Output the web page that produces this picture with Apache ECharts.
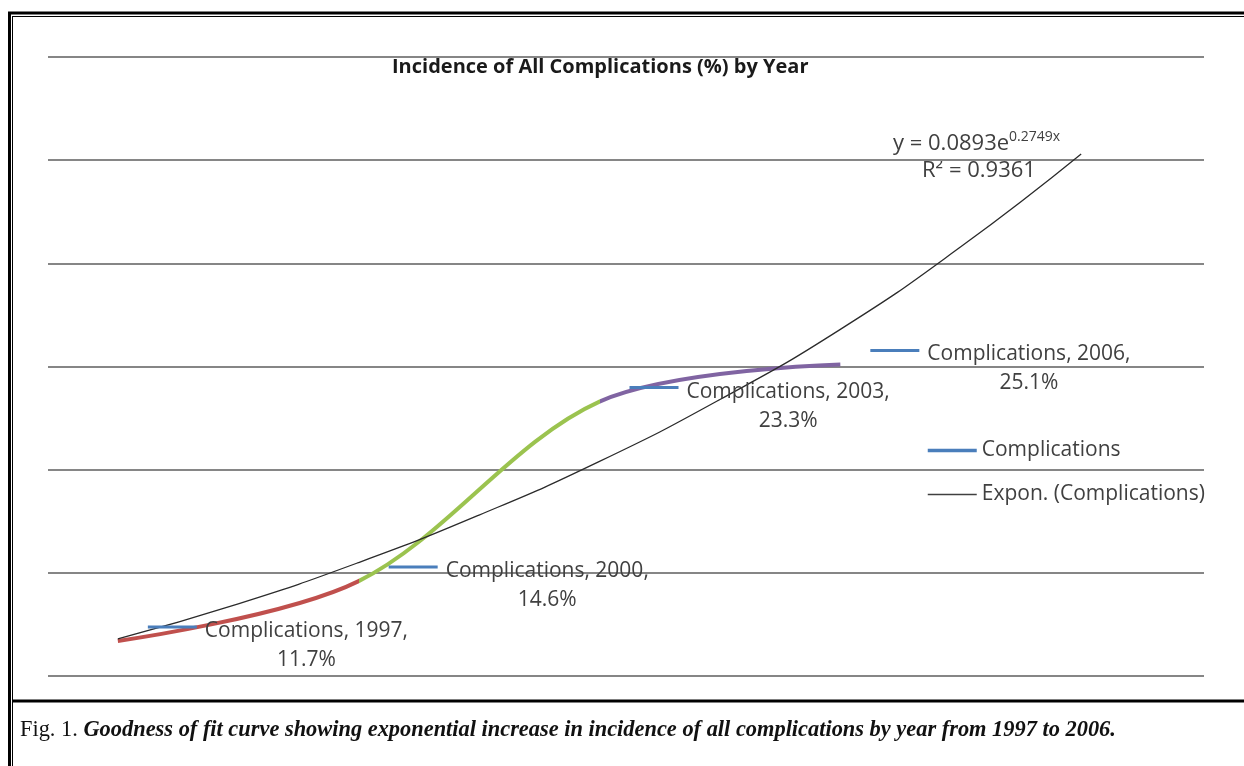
<!DOCTYPE html>
<html><head><meta charset="utf-8">
<script src="https://cdn.jsdelivr.net/npm/echarts@6/dist/echarts.min.js"></script>
<style>html,body{margin:0;padding:0;background:#fff}#c{width:1244px;height:766px}</style>
</head><body><div id="c"></div>
<script>
// ---- data ----
const years = ['1997', '2000', '2003', '2006'];
const yearIndex = [1, 2, 3, 4];
const incidence = [11.7, 14.6, 23.3, 25.1];
// exponential trend line at half-period steps
const trendX = [1, 1.5, 2, 2.5, 3, 3.5, 4, 4.5, 5];
const trendY = [11.8, 13.5, 15.5, 17.8, 20.4, 23.4, 26.8, 30.8, 35.3];
const yTicks = [10, 15, 20, 25, 30, 35, 40];
const seriesName = 'Complications';
const trendName = 'Expon. (Complications)';
const titleText = 'Incidence of All Complications (%) by Year';
const eqLine1 = 'y = 0.0893e';
const eqExp = '0.2749x';
const eqLine2 = 'R² = 0.9361';
const captionLead = 'Fig. 1.';
const captionText = 'Goodness of fit curve showing exponential increase in incidence of all complications by year from 1997 to 2006.';

const SANS = '"Open Sans", "Noto Sans", sans-serif';
const SERIF = '"Liberation Serif", "DejaVu Serif", serif';
const TXT = '#404040';

const chart = echarts.init(document.getElementById('c'), null, {renderer: 'canvas'});
const mainData = yearIndex.map((x, i) => [x, incidence[i]]);
const trendData = trendX.map((x, i) => [x, trendY[i]]);

chart.setOption({
  animation: false,
  backgroundColor: '#ffffff',
  title: {
    text: titleText, left: 392, top: 57, padding: 0,
    textStyle: {fontFamily: SANS, fontWeight: 'bold', fontSize: 20, color: '#1a1a1a'}
  },
  grid: {left: 48, right: 40, top: 57, bottom: 90},
  xAxis: {
    type: 'value', min: 0.71, max: 5.51,
    axisLine: {show: false}, axisTick: {show: false}, axisLabel: {show: false}, splitLine: {show: false}
  },
  yAxis: {
    type: 'value', min: yTicks[0], max: yTicks[yTicks.length - 1], interval: 5,
    axisLine: {show: false}, axisTick: {show: false}, axisLabel: {show: false},
    splitLine: {lineStyle: {color: '#868686', width: 2}}
  },
  visualMap: {
    type: 'piecewise', show: false, dimension: 0, seriesIndex: 0,
    pieces: [
      {lt: 2, color: '#c0504d'},
      {gte: 2, lt: 3, color: '#9bc34f'},
      {gte: 3, color: '#8064a2'}
    ]
  },
  legend: {
    orient: 'vertical', left: 926, top: 440, padding: 0, itemWidth: 49, itemHeight: 14, itemGap: 23,
    selectedMode: false,
    textStyle: {fontFamily: SANS, fontSize: 21, color: TXT},
    data: [
      {name: seriesName, lineStyle: {color: '#4a7ebb', width: 3.5}, itemStyle: {opacity: 0}},
      {name: trendName, lineStyle: {color: '#404040', width: 1.5}, itemStyle: {opacity: 0}}
    ]
  },
  series: [
    {
      name: seriesName, type: 'line', data: mainData, smooth: 0.33, symbol: 'none',
      lineStyle: {width: 4}, z: 3
    },
    {
      name: trendName, type: 'line', data: trendData, smooth: true, symbol: 'none',
      lineStyle: {color: '#2b2b2b', width: 1.3}, itemStyle: {color: '#404040'}, z: 4
    },
    {
      name: 'labels', type: 'scatter', data: mainData, symbolSize: 2, silent: true,
      itemStyle: {color: 'rgba(0,0,0,0)', opacity: 1}, z: 5,
      label: {
        show: true, position: [31, -29], align: 'left', verticalAlign: 'top',
        formatter: p => '{k|}{g|}{t|' + seriesName + ', ' + years[p.dataIndex] + ',}\n{s|}{c|' + incidence[p.dataIndex].toFixed(1) + '%}',
        rich: {
          k: {width: 49, height: 3, backgroundColor: '#4a7ebb', lineHeight: 32},
          g: {width: 8, lineHeight: 32},
          t: {fontFamily: SANS, fontSize: 21, color: TXT, lineHeight: 32, padding: [8, 0, 0, 0]},
          s: {width: 57, lineHeight: 34},
          c: {fontFamily: SANS, fontSize: 21, color: TXT, lineHeight: 34, align: 'center'}
        }
      }
    }
  ],
  graphic: [
    {type: 'line', shape: {x1: 8, y1: 13, x2: 1244, y2: 13}, style: {stroke: '#000', lineWidth: 3}, silent: true},
    {type: 'line', shape: {x1: 12, y1: 16.5, x2: 1244, y2: 16.5}, style: {stroke: '#000', lineWidth: 1}, silent: true},
    {type: 'line', shape: {x1: 9.5, y1: 12, x2: 9.5, y2: 766}, style: {stroke: '#000', lineWidth: 3}, silent: true},
    {type: 'line', shape: {x1: 12.5, y1: 16, x2: 12.5, y2: 766}, style: {stroke: '#000', lineWidth: 1}, silent: true},
    {type: 'line', shape: {x1: 13, y1: 701, x2: 1244, y2: 701}, style: {stroke: '#000', lineWidth: 3}, silent: true},
    {
      type: 'text', left: 893, top: 130, silent: true,
      style: {
        text: '{a|' + eqLine1 + '}{b|' + eqExp + '}\n{r|' + eqLine2 + '}',
        rich: {
          a: {fontFamily: SANS, fontSize: 22, fill: TXT, lineHeight: 27},
          b: {fontFamily: SANS, fontSize: 14, fill: TXT, lineHeight: 27, verticalAlign: 'top'},
          r: {fontFamily: SANS, fontSize: 22, fill: TXT, lineHeight: 27, padding: [0, 0, 0, 29]}
        }
      }
    },
    {
      type: 'text', left: 20, top: 719, silent: true,
      style: {
        text: '{r|' + captionLead + ' }{i|' + captionText + '}',
        rich: {
          r: {fontFamily: SERIF, fontSize: 22.4, fill: '#111'},
          i: {fontFamily: SERIF, fontSize: 22.4, fontStyle: 'italic', fontWeight: 'bold', fill: '#111'}
        }
      }
    }
  ]
});
</script>
</body></html>
